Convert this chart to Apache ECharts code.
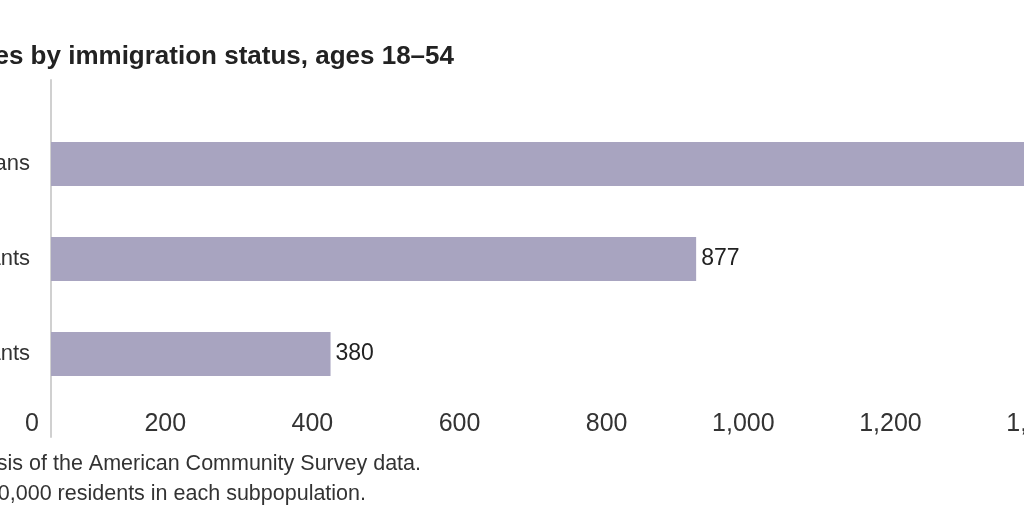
<!DOCTYPE html>
<html>
<head>
<meta charset="utf-8">
<script src="https://cdn.jsdelivr.net/npm/echarts@6/dist/echarts.min.js"></script>
<style>
html,body{margin:0;padding:0;overflow:hidden;width:1024px;height:512px;background:#fff;}
#c{position:absolute;left:0;top:0;width:1400px;height:512px;}
</style>
</head>
<body>
<div id="c"></div>
<script>
const categories = ["Native-born Americans", "Undocumented immigrants", "Legal immigrants"];
const values = [1452, 877, 380];
const xTicks = [0, 200, 400, 600, 800, 1000, 1200, 1400, 1600];
const titleText = "Incarceration rates by immigration status, ages 18–54";
const sourceText = "Source: Cato Institute analysis of the American Community Survey data.";
const noteText = "Note: Incarcerations per 100,000 residents in each subpopulation.";

const bodyFont = "'Liberation Sans', Arial, sans-serif";
const chart = echarts.init(document.getElementById('c'), null, {renderer: 'canvas'});
chart.setOption({
  animation: false,
  backgroundColor: '#fff',
  grid: [
    {left: 51, top: 116.5, height: 285, width: 1177, containLabel: false, outerBoundsMode: 'none'},
    {left: 51, top: 80, height: 357, width: 1177, containLabel: false, outerBoundsMode: 'none'}
  ],
  xAxis: [
    {
      type: 'value', gridIndex: 0,
      min: xTicks[0], max: xTicks[xTicks.length - 1], interval: 200,
      splitLine: {show: false}, axisLine: {show: false}, axisTick: {show: false},
      axisLabel: {
        fontFamily: bodyFont, fontSize: 25, color: '#333', margin: 10,
        align: 'right', padding: [0, 12, 0, 0],
        formatter: v => v.toLocaleString('en-US')
      }
    },
    {type: 'value', gridIndex: 1, show: false, min: 0, max: 1}
  ],
  yAxis: [
    {
      type: 'category', gridIndex: 0, data: categories, inverse: true,
      axisLine: {show: false}, axisTick: {show: false}, splitLine: {show: false},
      axisLabel: {fontFamily: bodyFont, fontSize: 22, color: '#333', margin: 21}
    },
    {
      type: 'value', gridIndex: 1, min: 0, max: 1,
      axisLine: {show: true, lineStyle: {color: '#d0d0d0', width: 2}},
      axisTick: {show: false}, axisLabel: {show: false}, splitLine: {show: false}
    }
  ],
  series: [{
    type: 'bar', xAxisIndex: 0, yAxisIndex: 0,
    data: values, barWidth: 44,
    itemStyle: {color: '#a8a4c0'},
    label: {
      show: true, position: 'right', distance: 5,
      fontFamily: bodyFont, fontSize: 23, color: '#222',
      formatter: p => p.value.toLocaleString('en-US')
    }
  }],
  graphic: [
    {type: 'text', x: 454, y: 57, style: {text: titleText, textAlign: 'right', textVerticalAlign: 'middle',
      font: "bold 26px 'Liberation Sans', Arial, sans-serif", fill: '#222'}},
    {type: 'text', x: 421, y: 464, style: {text: sourceText, textAlign: 'right', textVerticalAlign: 'middle',
      font: "21.5px 'Liberation Sans', Arial, sans-serif", fill: '#333'}},
    {type: 'text', x: 366, y: 494, style: {text: noteText, textAlign: 'right', textVerticalAlign: 'middle',
      font: "21.5px 'Liberation Sans', Arial, sans-serif", fill: '#333'}}
  ]
});
</script>
</body>
</html>
